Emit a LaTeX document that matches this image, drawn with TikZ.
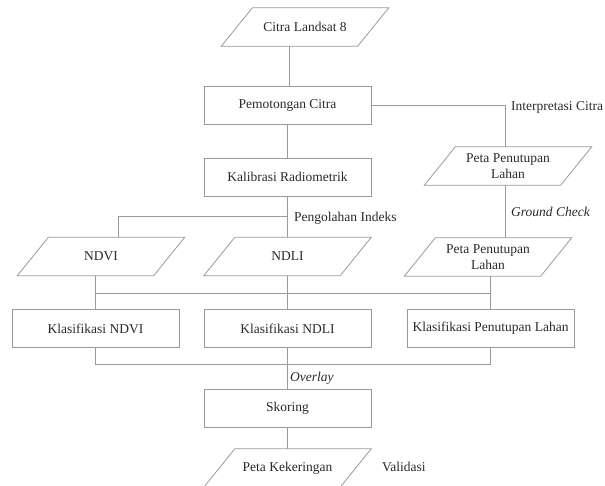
\documentclass[tikz,border=0pt]{standalone}
\usepackage{fontspec}
\setmainfont{Liberation Serif}
\usetikzlibrary{calc}
\definecolor{lc}{HTML}{9A9A9A}
\definecolor{tc}{HTML}{2A2A2A}
\begin{document}
\begin{tikzpicture}[x=1pt,y=-1pt,
  every node/.style={text=tc,font=\fontsize{13.5}{15.5}\selectfont,inner sep=0pt},
  boxnode/.style={draw=lc,line width=0.8pt,minimum width=167pt,minimum height=38pt},
  paranode/.style={minimum width=136pt,minimum height=38pt,align=center},
  conn/.style={draw=lc,line width=0.8pt},
  lbl/.style={anchor=west},
  ilbl/.style={anchor=west,font=\fontsize{13.5}{15.5}\selectfont\itshape}]
\useasboundingbox (0,0) rectangle (605,485);
\fill[white] (0,0) rectangle (605,485);

% nodes
\node[paranode] (citra) at (305,27) {Citra Landsat 8};
\node[boxnode] (pem) at (287.5,105.5) {Pemotongan Citra};
\node[boxnode] (kal) at (287.5,177) {Kalibrasi Radiometrik};
\node[paranode] (peta1) at (508,166) {Peta Penutupan\\Lahan};
\node[paranode] (ndvi) at (101,256.5) {NDVI};
\node[paranode] (ndli) at (287.5,256.5) {NDLI};
\node[paranode] (peta2) at (488,257) {Peta Penutupan\\Lahan};
\node[boxnode] (kndvi) at (95.5,328.5) {Klasifikasi NDVI};
\node[boxnode] (kndli) at (287.5,328.5) {Klasifikasi NDLI};
\node[boxnode] (kpen) at (490.5,328.5) {Klasifikasi Penutupan Lahan};
\node[boxnode] (skor) at (287.5,408) {Skoring};
\node[paranode] (keker) at (287.5,468) {Peta Kekeringan};

% parallelogram outlines
\foreach \n in {citra,peta1,ndvi,ndli,peta2,keker}{
  \draw[conn] ([xshift=-15.5pt]\n.south west) -- ([xshift=-15.5pt]\n.south east)
    -- ([xshift=15.5pt]\n.north east) -- ([xshift=15.5pt]\n.north west) -- cycle;
}

% labels
\node[lbl] (linterp) at (511,107) {Interpretasi Citra};
\node[ilbl] (lground) at (511,212) {Ground Check};
\node[lbl] (lpeng) at (294,218) {Pengolahan Indeks};
\node[ilbl] (lover) at (290,378) {Overlay};
\node[lbl] (lvalid) at (382,467) {Validasi};

% helper coordinates
\coordinate (cb) at ([xshift=-15.5pt]citra.south);
\coordinate (gx) at (505,0);
\coordinate (b1) at (0,216);
\coordinate (nt) at (118,0);
\coordinate (h1) at (0,293);
\coordinate (h2) at (0,364);

% connectors
\draw[conn] (cb) -- (cb |- pem.north);
\draw[conn] (pem.east) -| (gx |- peta1.north);
\draw[conn] (gx |- peta1.south) -- (gx |- peta2.north);
\draw[conn] (pem.south) -- (kal.north);
\draw[conn] (kal.south) -- (kal.south |- ndli.north);
\draw[conn] (kal.south |- b1) -| (nt |- ndvi.north);
\draw[conn] (kndvi.north |- ndvi.south) -- (kndvi.north);
\draw[conn] (ndli.south) -- (kndli.north);
\draw[conn] (kpen.north |- peta2.south) -- (kpen.north);
\draw[conn] (kndvi.north |- h1) -- (kpen.north |- h1);
\draw[conn] (kndvi.south) -- (kndvi.south |- h2) -- (kpen.south |- h2) -- (kpen.south);
\draw[conn] (kndli.south) -- (skor.north);
\draw[conn] (skor.south) -- (keker.north);
\end{tikzpicture}
\end{document}
